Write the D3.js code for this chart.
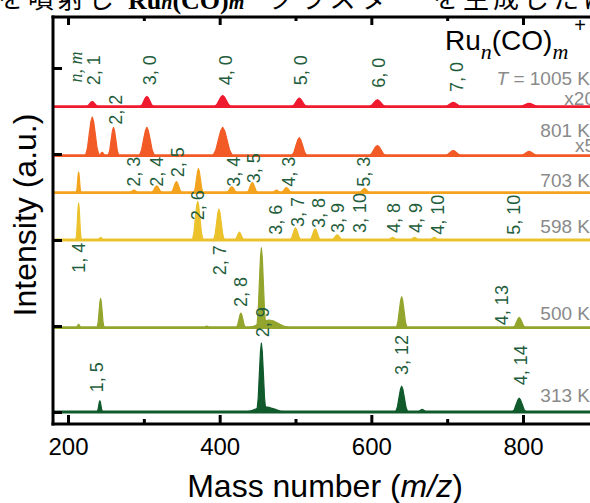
<!DOCTYPE html>
<html>
<head>
<meta charset="utf-8">
<script src="https://cdn.jsdelivr.net/npm/d3@7"></script>
<style>
  body { margin: 0; background: #fff; overflow: hidden; }
  svg { display: block; }
</style>
</head>
<body>
<div id="chartbox"></div>
<script>

// axis values
const massTicks = [200, 300, 400, 500, 600, 700, 800]
const massLabels = [200, 400, 600, 800]
const intensityTicks = [0, 1, 2, 3, 4]

// spectra, top to bottom
const tempLabels = ['1005 K', '801 K', '703 K', '598 K', '500 K', '313 K']
const gainLabels = ['x20', 'x5', '', '', '', '']
const baselines = [3.55, 2.98, 2.55, 2.0, 0.98, 0]
const lineColors = ['#ef1a2e', '#f25a26', '#f4a31e', '#ebc22c', '#94a52e', '#105a2c']

// peaks: [mass, height (a.u.), half width]
const peaks1005 = [[232, 0.06, 8], [304, 0.12, 9], [404, 0.13, 11], [505, 0.10, 10], [608, 0.08, 11], [708, 0.05, 11], [808, 0.04, 13]]
const peaks801 = [[232, 0.45, 9], [245, 0.04, 4], [260, 0.33, 7], [304, 0.33, 10], [404, 0.33, 13], [505, 0.21, 10], [608, 0.12, 11], [708, 0.06, 11], [808, 0.05, 11]]
const peaks703 = [[214, 0.24, 3], [287, 0.03, 6], [317, 0.08, 7], [343, 0.13, 7], [372, 0.28, 6], [416, 0.07, 7], [443, 0.12, 7], [475, 0.03, 6], [488, 0.06, 7], [591, 0.05, 7]]
const peaks598 = [[214, 0.43, 3.5], [243, 0.03, 4], [371, 0.45, 7], [399, 0.36, 7], [426, 0.09, 6], [500, 0.14, 7], [526, 0.13, 7], [555, 0.06, 7], [628, 0.03, 6], [657, 0.03, 6], [683, 0.03, 6]]
const peaks500 = [[214, 0.04, 3], [243, 0.34, 4.5], [383, 0.02, 4], [428, 0.17, 6], [465, 0.09, 28], [455, 0.93, 6], [640, 0.36, 7], [795, 0.12, 8]]
const peaks313 = [[242, 0.13, 3.5], [460, 0.06, 28], [455, 0.80, 6], [640, 0.30, 8], [667, 0.03, 6], [795, 0.16, 9]]
const allPeaks = [peaks1005, peaks801, peaks703, peaks598, peaks500, peaks313]

// peak assignments (n, m): [mass, intensity at label foot, text]
const peakLabels = [
  [234, 3.80, '2, 1'], [307, 3.80, '3, 0'], [408, 3.80, '4, 0'], [506, 3.80, '5, 0'],
  [609, 3.77, '6, 0'], [712, 3.72, '7, 0'], [262, 3.34, '2, 2'],
  [287, 2.62, '2, 3'], [317, 2.62, '2, 4'], [344, 2.73, '2, 5'], [418, 2.62, '3, 4'],
  [445, 2.66, '3, 5'], [491, 2.62, '4, 3'], [590, 2.62, '5, 3'],
  [371, 2.23, '2, 6'], [473, 2.06, '3, 6'], [502, 2.15, '3, 7'], [530, 2.14, '3, 8'],
  [556, 2.08, '3, 9'], [584, 2.08, '3, 10'], [629, 2.08, '4, 8'], [658, 2.08, '4, 9'],
  [687, 2.06, '4, 10'], [788, 2.06, '5, 10'],
  [214.5, 1.62, '1, 4'], [400, 1.59, '2, 7'], [427, 1.22, '2, 8'], [456, 0.87, '2, 9'],
  [772, 1.01, '4, 13'], [640, 0.43, '3, 12'], [797, 0.31, '4, 14'], [238, 0.23, '1, 5']
]

const W = 590, H = 503
const plotLeft = 53, plotTop = 17, plotBottom = 424, plotRight = 620

const svg = d3.select('#chartbox')
  .append('svg')
  .attr('width', W)
  .attr('height', H)
  .style('font-family', 'Arial, "Liberation Sans", sans-serif')

const x = d3.scaleLinear().domain([200, 800]).range([68, 523])
const y = d3.scaleLinear().domain([0, 4]).range([412, 68])

// caption line cut at the top
const cap = svg.append('g').attr('font-size', 26).attr('font-family', '"Noto Sans CJK JP", sans-serif')
cap.append('text').attr('x', -2).attr('y', 8).attr('letter-spacing', 4).text('を噴射し')
const capRu = cap.append('text').attr('x', 128).attr('y', 9)
  .attr('font-family', '"Liberation Serif", serif').attr('font-weight', 'bold')
capRu.append('tspan').text('Ru')
capRu.append('tspan').attr('font-style', 'italic').attr('font-size', 20).text('n')
capRu.append('tspan').text('(CO)')
capRu.append('tspan').attr('font-style', 'italic').attr('font-size', 20).text('m')
cap.append('text').attr('x', 268).attr('y', 8).attr('letter-spacing', 5).text('クラスター')
cap.append('text').attr('x', 433).attr('y', 8).attr('letter-spacing', 4).text('を生成したに')

svg.append('clipPath').attr('id', 'plot')
  .append('rect').attr('x', plotLeft).attr('y', plotTop).attr('width', plotRight - plotLeft).attr('height', plotBottom - plotTop)

const plot = svg.append('g').attr('clip-path', 'url(#plot)')

// rounded peak outline from [mass, height, half width]
const peakShape = p => {
  const [m, h, w] = p
  return [[m - w, 0], [m - 0.7 * w, 0.2 * h], [m - 0.45 * w, 0.55 * h], [m - 0.2 * w, 0.88 * h], [m, h],
          [m + 0.2 * w, 0.88 * h], [m + 0.45 * w, 0.55 * h], [m + 0.7 * w, 0.2 * h], [m + w, 0]]
}

allPeaks.forEach((peaks, i) => {
  const base = baselines[i]
  const line = d3.line().x(d => x(d[0])).y(d => y(base + d[1]))
  const g = plot.append('g')
  g.append('path')
    .attr('d', line([[175, 0], [900, 0]]))
    .attr('stroke', lineColors[i])
    .attr('stroke-width', 2.8)
    .attr('fill', 'none')
  g.selectAll('path.peak')
    .data(peaks)
    .enter()
    .append('path')
    .attr('class', 'peak')
    .attr('d', d => line(peakShape(d)) + 'Z')
    .attr('fill', lineColors[i])
    .attr('stroke', lineColors[i])
    .attr('stroke-width', 1.2)
    .attr('stroke-linejoin', 'round')
})

// axes
const minor = d => massLabels.indexOf(d) < 0

const xBottom = svg.append('g')
  .attr('transform', 'translate(0,' + plotBottom + ')')
  .call(d3.axisBottom(x).tickValues(massTicks).tickSize(-9).tickSizeOuter(0)
    .tickFormat(d => minor(d) ? '' : d))
xBottom.selectAll('.tick line').attr('y2', d => minor(d) ? -5 : -9)
xBottom.selectAll('.tick text').attr('dy', 0).attr('y', 31)
  .attr('font-size', 24).attr('font-family', 'Arial, "Liberation Sans", sans-serif').attr('fill', '#000')

const xTop = svg.append('g')
  .attr('transform', 'translate(0,' + plotTop + ')')
  .call(d3.axisTop(x).tickValues(massTicks).tickSize(-8).tickSizeOuter(0).tickFormat(''))
xTop.selectAll('.tick line').attr('y2', d => minor(d) ? 4 : 8)

const yLeft = svg.append('g')
  .attr('transform', 'translate(' + plotLeft + ',0)')
  .call(d3.axisLeft(y).tickValues(intensityTicks).tickSize(-9).tickSizeOuter(0).tickFormat(''))

;[xBottom, xTop, yLeft].forEach(a => {
  a.select('.domain').attr('stroke', '#000').attr('stroke-width', 3)
  a.selectAll('.tick line').attr('stroke', '#000').attr('stroke-width', 3)
})
xBottom.select('.domain').attr('d', 'M' + (plotLeft - 1.5) + ',0H' + plotRight)
xTop.select('.domain').attr('d', 'M' + (plotLeft - 1.5) + ',0H' + plotRight)
yLeft.select('.domain').attr('d', 'M0,' + (plotTop - 1.5) + 'V' + (plotBottom + 1.5))

// peak assignment labels
const labG = svg.append('g').attr('fill', '#1f5e3c').attr('font-size', 18)
labG.selectAll('text')
  .data(peakLabels)
  .enter()
  .append('text')
  .attr('transform', d => 'translate(' + x(d[0]) + ',' + y(d[1]) + ') rotate(-90)')
  .attr('dy', '0.36em')
  .text(d => d[2])

labG.append('text')
  .attr('transform', 'translate(' + x(211.9) + ',' + y(3.83) + ') rotate(-90)')
  .attr('dy', '0.3em')
  .attr('font-family', '"Liberation Serif", serif')
  .attr('font-style', 'italic')
  .attr('font-size', 18)
  .text('n, m')

// temperature and gain labels
const tempG = svg.append('g').attr('fill', '#8a8a8a').attr('font-size', 19).attr('text-anchor', 'end')
const tempY = [85, 137, 187, 233, 320, 402]
tempLabels.forEach((t, i) => {
  const tx = tempG.append('text').attr('x', 590).attr('y', tempY[i])
  if (i === 0) {
    tx.append('tspan').attr('font-style', 'italic').text('T')
    tx.append('tspan').text(' = ' + t)
  } else {
    tx.text(t)
  }
})
const gainY = [105, 152]
gainLabels.filter(g => g).forEach((g, i) => {
  tempG.append('text').attr('x', 595).attr('y', gainY[i]).text(g)
})

// title
const title = svg.append('text').attr('x', 445).attr('y', 50).attr('font-size', 28).attr('fill', '#000')
title.append('tspan').text('Ru')
title.append('tspan').attr('font-family', '"Liberation Serif", serif').attr('font-style', 'italic')
  .attr('font-size', 22).attr('dy', 9).text('n')
title.append('tspan').attr('dy', -9).text('(CO)')
title.append('tspan').attr('font-family', '"Liberation Serif", serif').attr('font-style', 'italic')
  .attr('font-size', 22).attr('dy', 9).text('m')
title.append('tspan').attr('font-size', 20).attr('dy', -27).attr('dx', 6).text('+')

// axis titles
svg.append('text')
  .attr('transform', 'translate(36,215) rotate(-90)')
  .attr('text-anchor', 'middle')
  .attr('font-size', 32)
  .text('Intensity (a.u.)')

const xt = svg.append('text')
  .attr('x', 325)
  .attr('y', 497)
  .attr('text-anchor', 'middle')
  .attr('font-size', 32)
xt.append('tspan').text('Mass number (')
xt.append('tspan').attr('font-style', 'italic').text('m/z')
xt.append('tspan').text(')')

</script>
</body>
</html>
